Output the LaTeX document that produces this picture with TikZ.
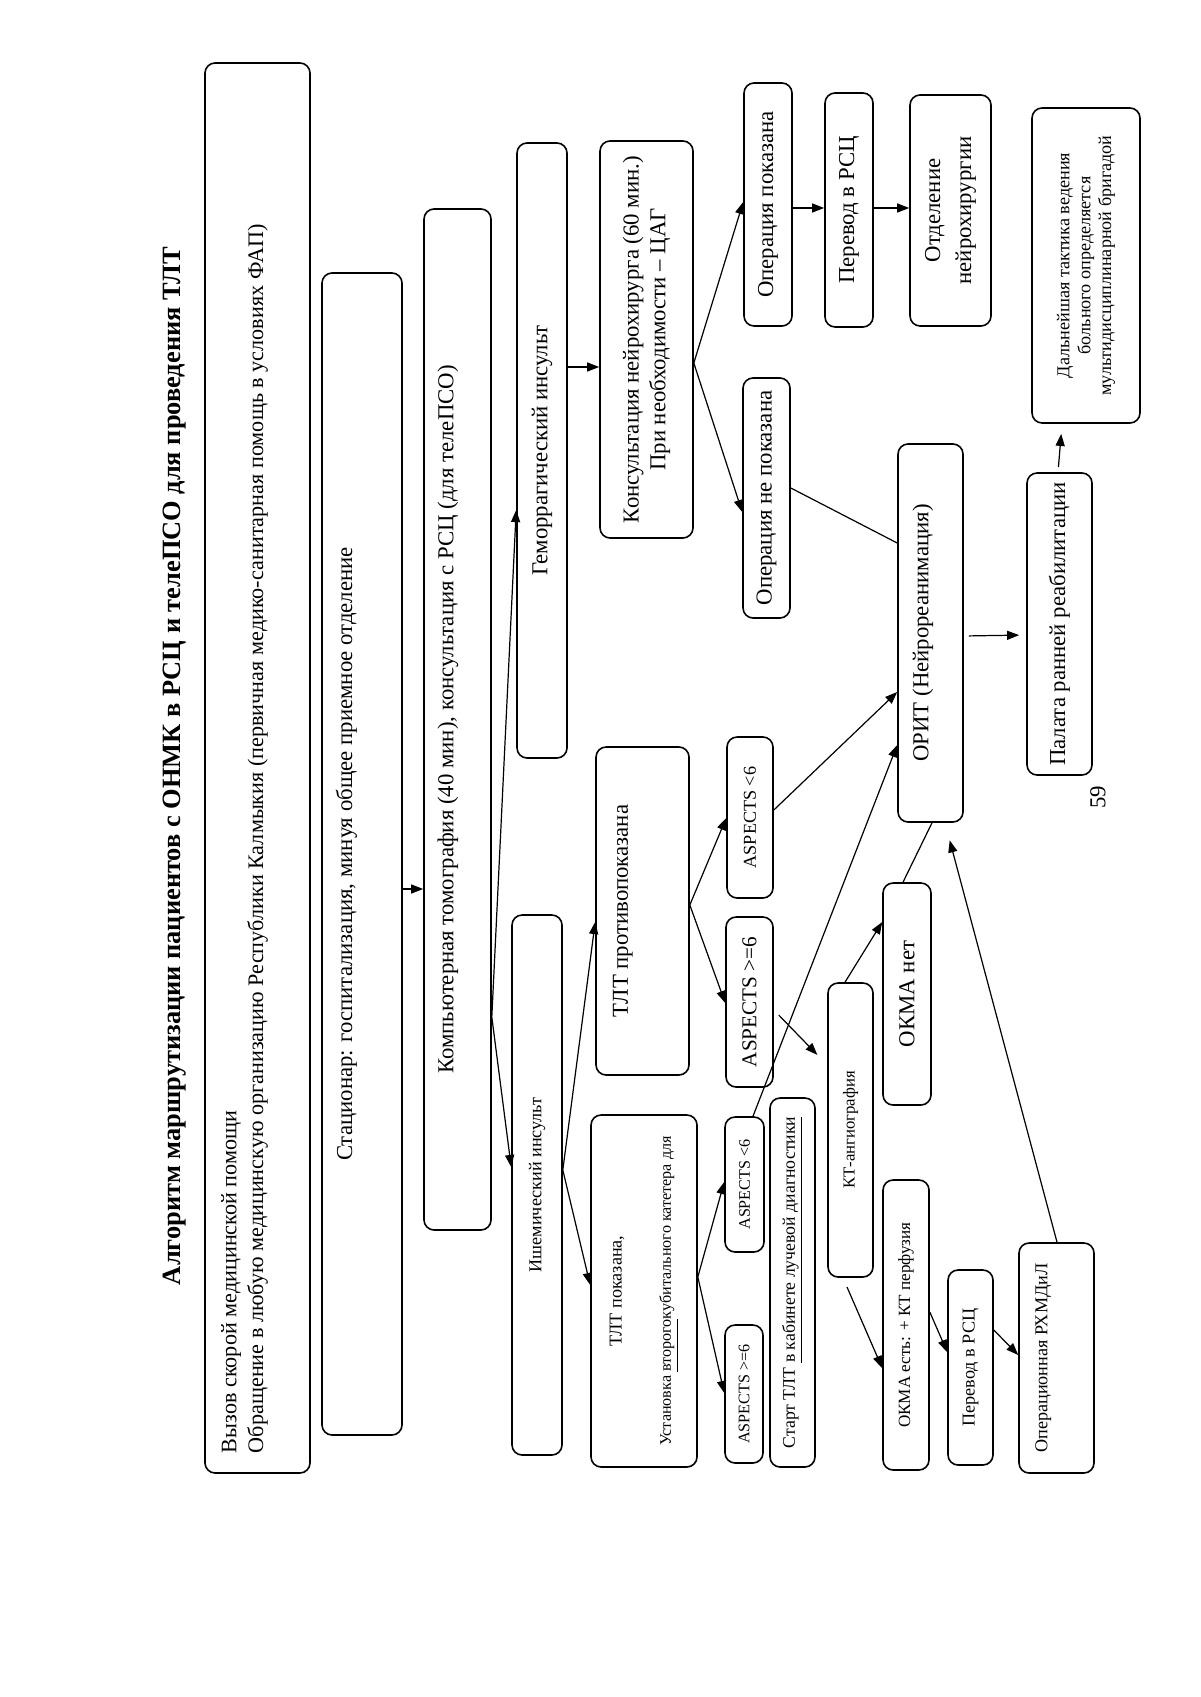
\documentclass[tikz,border=0pt]{standalone}
\usepackage{fontspec}
\setmainfont{Liberation Serif}
\usetikzlibrary{arrows.meta, calc}
\newcommand{\pxu}{0.49606pt}

\begin{document}
\begin{tikzpicture}[
  x=\pxu, y=-\pxu,
  box/.style={draw, rotate=90, rounded corners=5pt, line width=0.8pt, align=center, inner sep=1pt},
  sz/.style 2 args={minimum width=#1*\pxu, minimum height=#2*\pxu},
  bigtxt/.style={font=\fontsize{11.3}{13.3}\selectfont},
  midtxt/.style={font=\fontsize{9}{10.5}\selectfont},
  smalltxt/.style={font=\fontsize{8}{9.5}\selectfont},
  arrow/.style={-{Triangle[length=6pt, width=4.5pt]}, line width=0.6pt},
  link/.style={line width=0.6pt},
]
  \useasboundingbox[fill=white] (0,0) rectangle (1200,1697);

  % Title
  \node[rotate=90, font=\bfseries\fontsize{13.1}{16}\selectfont] (title) at (175,766) {Алгоритм маршрутизации пациентов с ОНМК в РСЦ и телеПСО для проведения ТЛТ};

  % Common path
  \node[box, font=\fontsize{11}{13.3}\selectfont, sz={1410}{105}, text width=1370*\pxu, align=flush left] (call) at (257.5,768) {Вызов скорой медицинской помощи\\Обращение в любую медицинскую организацию Республики Калмыкия (первичная медико-санитарная помощь в условиях ФАП)\\[2pt]\mbox{}};
  \node[box, bigtxt, sz={1162}{80}, text depth=18pt] (stat) at (362,854) {Стационар: госпитализация, минуя общее приемное отделение};
  \node[box, bigtxt, sz={1021}{67}, text depth=12pt] (ct) at (457.5,719.5) {Компьютерная томография (40 мин), консультация с РСЦ (для телеПСО)};
  \node[box, bigtxt, sz={615}{50}] (hem) at (542,450.5) {Геморрагический инсульт};
  \node[box, midtxt, sz={540}{50}] (isch) at (537,1185) {Ишемический инсульт};

  % Haemorrhagic stroke
  \node[box, bigtxt, sz={397}{93}] (consult) at (646.5,339.5) {Консультация нейрохирурга (60 мин.)\\При необходимости – ЦАГ};
  \node[box, bigtxt, sz={243}{48}] (opyes) at (768,204.5) {Операция показана};
  \node[box, bigtxt, sz={240}{47}] (opno) at (766.5,498) {Операция не показана};
  \node[box, bigtxt, sz={234}{48}] (transfer1) at (849,210) {Перевод в РСЦ};
  \node[box, bigtxt, sz={231}{81}] (neuro) at (950.5,210.5) {Отделение\\[2pt]нейрохирургии};

  % Ischaemic stroke
  \node[box, bigtxt, sz={328}{93}, text depth=22pt] (tltno) at (642.5,911) {ТЛТ противопоказана};
  \node[box, midtxt, sz={352}{106}] (tltyes) at (644,1291) {ТЛТ показана,\\[14pt]{\fontsize{8}{9.5}\selectfont Установка \underline{второго}кубитального катетера для}};
  \node[box, midtxt, sz={161}{46}] (asplo1) at (750,817.5) {ASPECTS <6};
  \node[box, font=\fontsize{10.5}{12}\selectfont, sz={170}{47}] (asphi1) at (749.5,1002) {ASPECTS >=6};
  \node[box, smalltxt, sz={135}{39}] (asplo2) at (744.5,1184.5) {ASPECTS <6};
  \node[box, smalltxt, sz={138}{38}] (asphi2) at (744,1394) {ASPECTS >=6};
  \node[box, font=\fontsize{8.8}{10.5}\selectfont, sz={369}{45}] (start) at (792.5,1282.5) {Старт ТЛТ \underline{в кабинете лучевой диагностики}};
  \node[box, font=\fontsize{8.3}{10}\selectfont, sz={294}{45}] (cta) at (850.5,1130) {КТ-ангиография};
  \node[box, bigtxt, sz={222}{48}] (okmano) at (907,994) {ОКМА нет};
  \node[box, font=\fontsize{8.5}{10}\selectfont, sz={290}{46}] (okmayes) at (906,1325) {ОКМА есть: + КТ перфузия};
  \node[box, midtxt, sz={195}{45}] (transfer2) at (970.5,1367.5) {Перевод в РСЦ};
  \node[box, midtxt, sz={230}{75}, text depth=15pt] (orroom) at (1056.5,1358) {Операционная РХМДиЛ};

  % Intensive care and further
  \node[box, bigtxt, sz={378}{65}, text depth=10pt] (orit) at (930.5,633) {ОРИТ (Нейрореанимация)};
  \node[box, bigtxt, sz={302}{65}] (rehab) at (1059.5,624) {Палата ранней реабилитации};
  \node[box, font=\fontsize{9}{10.4}\selectfont, sz={315}{108}] (further) at (1086,265.5) {Дальнейшая тактика ведения\\больного определяется\\мультидисциплинарной бригадой};

  \node[rotate=90, bigtxt] (pagenum) at (1098,797) {59};

  % Connectors
  \draw[arrow] (stat.south |- 0,889) -- (ct.north |- 0,889);
  \draw[arrow] (ct.south |- 0,1017) -- (hem.north |- 0,510);
  \draw[arrow] (ct.south |- 0,1017) -- (isch.north |- 0,1167);
  \draw[arrow] (hem.south |- 0,367) -- (consult.north |- 0,367);
  \draw[arrow] (consult.south |- 0,363) -- (opyes.north |- 0,202);
  \draw[arrow] (consult.south |- 0,363) -- (opno.north |- 0,512);
  \draw[arrow] (opyes.south |- 0,208) -- (transfer1.north |- 0,208);
  \draw[arrow] (transfer1.south |- 0,208) -- (neuro.north |- 0,208);
  \draw[link] (opno.south |- 0,488) -- (orit.north |- 0,543);
  \draw[arrow] (isch.south |- 0,1170) -- (tltno.north |- 0,922);
  \draw[arrow] (isch.south |- 0,1170) -- (tltyes.north |- 0,1285);
  \draw[arrow] (tltno.south |- 0,905) -- (asplo1.north |- 0,818);
  \draw[arrow] (tltno.south |- 0,905) -- (asphi1.north |- 0,1003);
  \draw[arrow] (tltyes.south |- 0,1277) -- (asplo2.north |- 0,1182);
  \draw[arrow] (tltyes.south |- 0,1277) -- (asphi2.north |- 0,1393);
  \draw[arrow] (asplo1.south |- 0,810) -- (orit.north |- 0,692);
  \draw[arrow] (asplo2.east -| 753,0) -- (orit.north |- 0,745);
  \draw[arrow, shorten <=3.5pt, shorten >=7pt] (asphi1.south |- 0,1010) -- (cta.north |- 0,1065);
  \draw[arrow] (cta.east -| 845,0) -- (okmano.north |- 0,922);
  \draw[arrow, shorten <=5pt] (cta.west -| 843,0) -- (okmayes.north |- 0,1368);
  \draw[link] (okmano.east -| 903,0) -- (orit.west -| 932,0);
  \draw[arrow] (okmayes.south |- 0,1312) -- (transfer2.north |- 0,1352);
  \draw[arrow] (transfer2.south |- 0,1330) -- (orroom.north |- 0,1355);
  \draw[arrow, shorten >=9pt] (orroom.east -| 1057,0) -- (orit.west -| 945,0);
  \draw[arrow, shorten <=2.5pt, shorten >=3.5pt] (orit.south |- 0,636) -- (rehab.north |- 0,635);
  \draw[arrow, shorten <=2.5pt, shorten >=5pt] (rehab.east -| 1058,0) -- (further.west -| 1062,0);
\end{tikzpicture}
\end{document}
